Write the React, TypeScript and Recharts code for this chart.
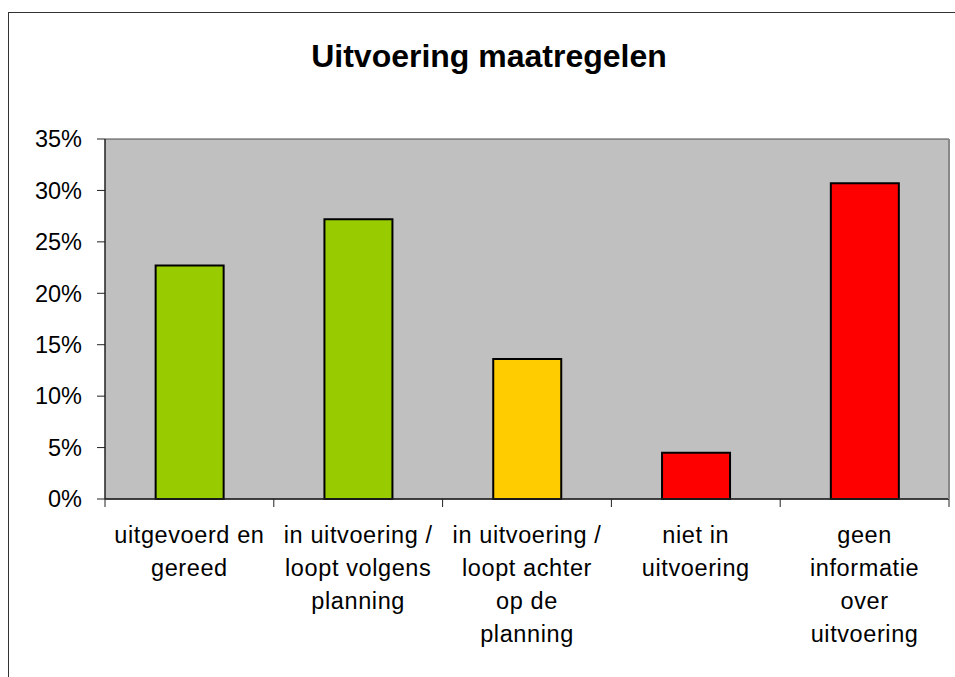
import React from 'react';
import { BarChart, Bar, XAxis, YAxis, CartesianGrid, Cell } from 'recharts';

const categories: string[][] = [
  ['uitgevoerd en', 'gereed'],
  ['in uitvoering /', 'loopt volgens', 'planning'],
  ['in uitvoering /', 'loopt achter', 'op de', 'planning'],
  ['niet in', 'uitvoering'],
  ['geen', 'informatie', 'over', 'uitvoering'],
];
const values: number[] = [22.7, 27.2, 13.6, 4.5, 30.7];
const barColors: string[] = ['#99CC00', '#99CC00', '#FFCC00', '#FF0000', '#FF0000'];
const yTicks: number[] = [0, 5, 10, 15, 20, 25, 30, 35];
const title = 'Uitvoering maatregelen';

const data = categories.map((c, i) => ({ name: c.join('\n'), value: values[i] }));

const W = 955;
const H = 677;
const LEFT = 105;
const RIGHT = 6;
const BAND = (W - LEFT - RIGHT) / categories.length;
const FONT = '"Liberation Sans", Arial, sans-serif';

const XTick = (props: any) => {
  const { x, y, payload, index } = props;
  const lines: string[] = String(payload.value).split('\n');
  const left = x - BAND / 2;
  return (
    <g>
      <line x1={left} y1={y} x2={left} y2={y + 8} stroke="#222" strokeWidth={1} />
      {index === categories.length - 1 && (
        <line x1={x + BAND / 2} y1={y} x2={x + BAND / 2} y2={y + 8} stroke="#222" strokeWidth={1} />
      )}
      <text x={x} y={y + 44} textAnchor="middle" fontFamily={FONT} fontSize={23.5} letterSpacing={0.6} fill="#000">
        {lines.map((l, i) => (
          <tspan key={i} x={x} dy={i === 0 ? 0 : 33}>
            {l}
          </tspan>
        ))}
      </text>
    </g>
  );
};

export default function App() {
  return (
    <div style={{ position: 'absolute', left: 0, top: 0, width: W, height: H, background: '#fff', overflow: 'hidden' }}>
      <div
        style={{
          position: 'absolute',
          left: 8,
          top: 12,
          width: W,
          height: H,
          borderLeft: '1.5px solid #333',
          borderTop: '1.5px solid #333',
        }}
      />
      <div
        style={{
          position: 'absolute',
          left: 0,
          top: 40,
          width: 978,
          textAlign: 'center',
          fontFamily: FONT,
          fontWeight: 'bold',
          fontSize: 32,
          lineHeight: 1,
          color: '#000',
        }}
      >
        {title}
      </div>
      <div style={{ position: 'absolute', left: 0, top: 0 }}>
        <BarChart
          width={W}
          height={H}
          data={data}
          margin={{ top: 139, right: 0, bottom: 0, left: 0 }}
          barCategoryGap="30%"
        >
          <CartesianGrid vertical={false} fill="#C0C0C0" stroke="#4a4a4a" strokeWidth={1} />
          <XAxis
            dataKey="name"
            height={178}
            interval={0}
            tickLine={false}
            tickSize={0}
            tickMargin={0}
            axisLine={{ stroke: '#222', strokeWidth: 1.5 }}
            tick={<XTick />}
          />
          <YAxis
            yAxisId="left"
            width={LEFT}
            domain={[0, 35]}
            ticks={yTicks}
            interval={0}
            tickFormatter={(v: number) => `${v}%`}
            tickSize={8}
            tickMargin={15}
            tickLine={{ stroke: '#222' }}
            axisLine={{ stroke: '#222', strokeWidth: 1.5 }}
            tick={{ fontFamily: FONT, fontSize: 23.5, fill: '#000' }}
          />
          <YAxis
            yAxisId="right"
            orientation="right"
            width={RIGHT}
            domain={[0, 35]}
            tick={false}
            tickLine={false}
            axisLine={{ stroke: '#888', strokeWidth: 2 }}
          />
          <Bar yAxisId="left" dataKey="value" stroke="#000" strokeWidth={2} isAnimationActive={false}>
            {data.map((d, i) => (
              <Cell key={i} fill={barColors[i]} />
            ))}
          </Bar>
        </BarChart>
      </div>
    </div>
  );
}
